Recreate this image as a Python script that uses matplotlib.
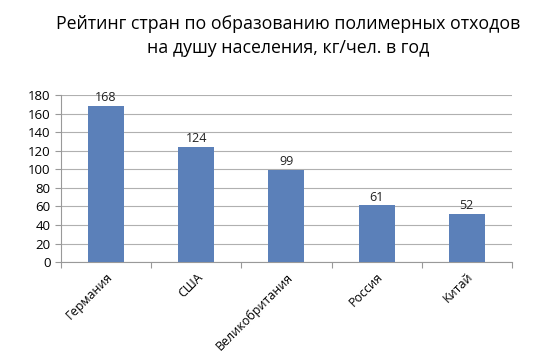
import matplotlib
matplotlib.use("Agg")
import matplotlib.pyplot as plt
import numpy as np

plt.rcParams['font.family'] = ['Open Sans', 'DejaVu Sans']

countries = ["Германия", "США", "Великобритания", "Россия", "Китай"]
values = [168, 124, 99, 61, 52]
yticks = list(range(0, 181, 20))

fig = plt.figure(figsize=(5.6, 3.6), dpi=100)
ax = fig.add_axes([0.109, 0.272, 0.805, 0.464])

x = np.arange(len(countries))
ax.bar(x, values, width=0.4, color="#5b80b9", zorder=3)
for xi, v in zip(x, values):
    ax.text(xi, v + 2, str(v), ha="center", va="bottom", fontsize=9, color="#222222")

ax.set_xlim(-0.5, len(countries) - 0.5)
ax.set_ylim(0, 180)
ax.set_yticks(yticks)
ax.yaxis.grid(True, color="#b0b0b0", linewidth=0.8, zorder=0)
ax.set_xticks(np.arange(-0.5, len(countries), 1), minor=False)
ax.set_xticklabels([])
ax.set_xticks(x, minor=True)
ax.set_xticklabels(countries, minor=True, rotation=45, ha="right", rotation_mode="anchor", fontsize=9)
ax.tick_params(axis="x", which="minor", length=0, pad=6)
ax.tick_params(axis="x", which="major", length=4, direction="out", color="#999999")
ax.tick_params(axis="y", length=4, color="#999999", labelsize=9.5)

for s in ["top", "right"]:
    ax.spines[s].set_visible(False)
for s in ["left", "bottom"]:
    ax.spines[s].set_color("#999999")

fig.text(0.514, 0.9, "Рейтинг стран по образованию полимерных отходов\nна душу населения, кг/чел. в год",
         ha="center", va="center", fontsize=12.8, linespacing=1.4)

fig.savefig("out.png", dpi=100)
